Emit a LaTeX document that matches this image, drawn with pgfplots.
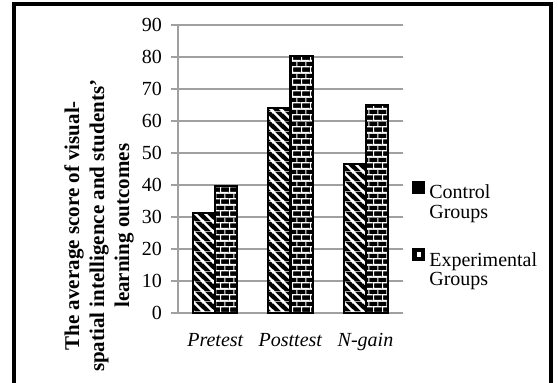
\documentclass[border=0pt]{standalone}
\usepackage{pgfplots}
\pgfplotsset{compat=1.18}
\usepackage{fontspec}
\setmainfont{Liberation Serif}
\usetikzlibrary{patterns}

\definecolor{gridgray}{RGB}{160,160,160}

\pgfdeclarepatterninherentlycolored{whitebricks}
  {\pgfpointorigin}{\pgfpoint{4.4pt}{5.8pt}}{\pgfpoint{4.4pt}{5.8pt}}
{
  \pgfsetfillcolor{black}
  \pgfpathrectangle{\pgfpointorigin}{\pgfpoint{4.4pt}{5.8pt}}
  \pgfusepath{fill}
  \pgfsetstrokecolor{white}
  \pgfsetlinewidth{0.6pt}
  \pgfpathmoveto{\pgfpoint{0pt}{0.3pt}}\pgfpathlineto{\pgfpoint{4.4pt}{0.3pt}}
  \pgfpathmoveto{\pgfpoint{0pt}{3.2pt}}\pgfpathlineto{\pgfpoint{4.4pt}{3.2pt}}
  \pgfpathmoveto{\pgfpoint{0.3pt}{0.3pt}}\pgfpathlineto{\pgfpoint{0.3pt}{3.2pt}}
  \pgfpathmoveto{\pgfpoint{2.5pt}{3.2pt}}\pgfpathlineto{\pgfpoint{2.5pt}{5.8pt}}
  \pgfusepath{stroke}
}

\pgfdeclarepatterninherentlycolored{whitediag}
  {\pgfpointorigin}{\pgfpoint{5.1pt}{5.1pt}}{\pgfpoint{5.1pt}{5.1pt}}
{
  \pgfsetfillcolor{black}
  \pgfpathrectangle{\pgfpointorigin}{\pgfpoint{5.1pt}{5.1pt}}
  \pgfusepath{fill}
  \pgfsetstrokecolor{white}
  \pgfsetlinewidth{1.25pt}
  \pgfpathmoveto{\pgfpoint{-1pt}{6.1pt}}\pgfpathlineto{\pgfpoint{6.1pt}{-1pt}}
  \pgfpathmoveto{\pgfpoint{-1pt}{1pt}}\pgfpathlineto{\pgfpoint{1pt}{-1pt}}
  \pgfpathmoveto{\pgfpoint{4.1pt}{6.1pt}}\pgfpathlineto{\pgfpoint{6.1pt}{4.1pt}}
  \pgfusepath{stroke}
}

\pgfplotstableread{
x control experimental
0 31.4 39.7
1 64.1 80.3
2 46.7 65.0
}\scores

\begin{document}
\begin{tikzpicture}
\useasboundingbox (0,0) rectangle (279pt,191pt);
\draw[line width=1.6pt] (7pt,-6pt) rectangle (275.5pt,189pt);
\begin{axis}[
  at={(89pt,34.5pt)}, anchor=south west,
  scale only axis, width=112.5pt, height=144pt,
  ymin=0, ymax=90, ytick={0,10,...,90},
  xmin=-0.5, xmax=2.5, xtick={0,1,2},
  xticklabels={\textit{Pretest},\textit{Posttest},\textit{N-gain}},
  ybar=0pt, bar width=11pt,
  axis x line*=bottom, axis y line*=left,
  axis line style={gridgray, line width=0.6pt, -},
  ymajorgrids, grid style={gridgray, line width=0.6pt},
  xtick style={draw=none},
  ytick style={gridgray, line width=0.6pt},
  tick align=outside, major tick length=3.5pt,
  tick label style={font=\fontsize{10}{12}\selectfont},
  /pgf/number format/assume math mode=true,
  yticklabel style={xshift=-1pt},
  xticklabel style={yshift=-3pt},
  legend style={at={(axis description cs:1.04,0.475)}, anchor=north west,
    draw=none, fill=none, font=\fontsize{10}{9.8}\selectfont,
    row sep=21pt, inner xsep=0pt},
  legend cell align=left,
  clip=false,
]
\addplot[draw=black, line width=1pt, pattern=whitediag,
  legend image code/.code={\fill[black] (0pt,0.4pt) rectangle (5.5pt,5.9pt);}]
  table[x=x, y=control] {\scores};
\addplot[draw=black, line width=1pt, pattern=whitebricks,
  legend image code/.code={\fill[black] (0pt,0.4pt) rectangle (5.5pt,5.9pt);
    \fill[white] (2.1pt,2.5pt) rectangle (3.4pt,3.8pt);}]
  table[x=x, y=experimental] {\scores};
\legend{\begin{tabular}[t]{@{}l@{}}Control\\Groups\end{tabular},
        \begin{tabular}[t]{@{}l@{}}Experimental\\Groups\end{tabular}}
\node[rotate=90, align=center, font=\bfseries\fontsize{10.5}{12.5}\selectfont]
  at (axis description cs:-0.351,0.303)
  {The average score of visual-\\spatial intelligence and students'\\learning outcomes};
\end{axis}
\end{tikzpicture}
\end{document}
